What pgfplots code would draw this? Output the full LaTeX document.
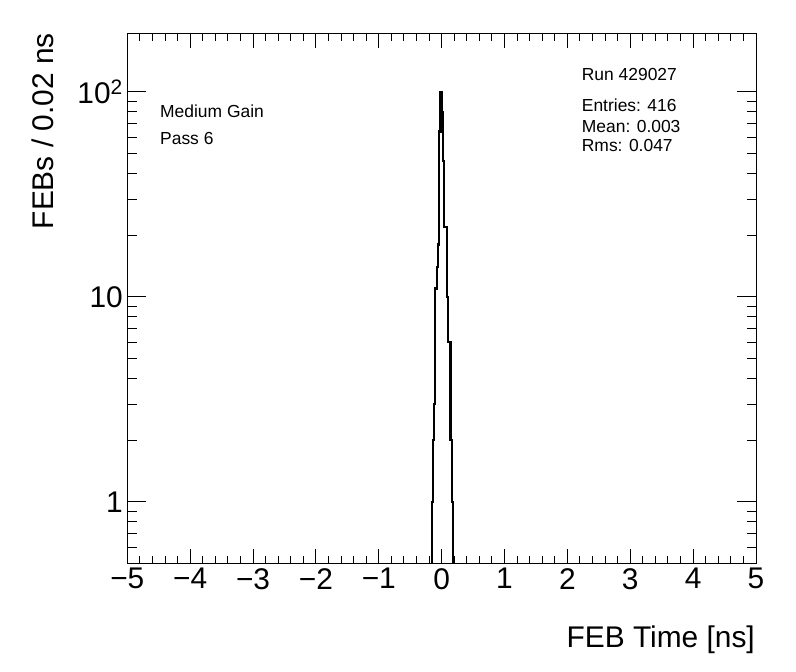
\documentclass[border=0pt]{standalone}
\usepackage{fontspec}
\setmainfont{Liberation Sans}
\usepackage{pgfplots}
\pgfplotsset{compat=1.18}
\begin{document}
\begin{tikzpicture}[x=1bp,y=1bp]
\path[use as bounding box] (0,0) rectangle (796,672);
\begin{axis}[
  at={(127.3bp,108.3bp)}, anchor=south west,
  scale only axis, width=628.7bp, height=530.4bp,
  xmin=-5, xmax=5, ymode=log, ymin=0.5, ymax=193,
  axis line style={line width=1bp},
  tick style={black, line width=1bp},
  tick align=inside, tick pos=both,
  xtick={-5,-4,...,5},
  xticklabels={−5,−4,−3,−2,−1,0,1,2,3,4,5},
  minor x tick num=4,
  ytick={0.1,1,10,100,1000},
  yticklabels={0.1,1,10,10\textsuperscript{2},10\textsuperscript{3}},
  xtick style={/pgfplots/major tick length=15bp, /pgfplots/minor tick length=7.7bp},
  ytick style={/pgfplots/major tick length=19bp, /pgfplots/minor tick length=9.5bp},
  ticklabel style={font=\fontsize{30}{36}\selectfont},
  xticklabel style={yshift=-1bp},
  yticklabel style={xshift=-1bp},
  clip=true,
]
\addplot[const plot mark left, black, line width=2.2bp] coordinates {
(-5,0.001) (-0.16,1) (-0.14,2) (-0.12,3) (-0.10,11) (-0.08,14) (-0.06,18)
(-0.04,64) (-0.02,100) (0,80) (0.02,46) (0.04,22) (0.06,22) (0.08,10)
(0.10,6) (0.12,6) (0.14,2) (0.16,1) (0.18,0.001) (5,0.001)
};
\end{axis}
\node[rotate=90, anchor=base east, inner sep=0pt, font=\fontsize{30}{36}\selectfont] at (53,639) {FEBs / 0.02 ns};
\node[anchor=base east, inner sep=0pt, font=\fontsize{30}{36}\selectfont] at (755,24) {FEB Time [ns]};
\begin{scope}[every node/.style={anchor=base west, inner sep=0pt, font=\fontsize{17.5}{21}\selectfont}]
\node at (160,554.7) {Medium Gain};
\node at (160,527) {Pass 6};
\node at (581.7,591) {Run 429027};
\node at (581.7,560.3) {Entries: 416};
\node at (581.7,539.7) {Mean: 0.003};
\node at (581.7,520.3) {Rms: 0.047};
\end{scope}
\end{tikzpicture}
\end{document}
